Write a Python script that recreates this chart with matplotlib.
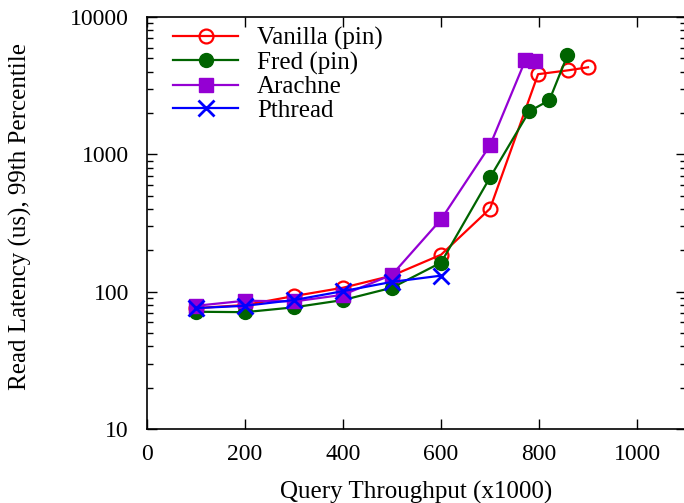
import matplotlib
matplotlib.use("Agg")
import matplotlib.pyplot as plt
from matplotlib.ticker import LogLocator, NullFormatter, FixedLocator

plt.rcParams['font.family'] = ['Liberation Serif', 'DejaVu Serif']

vanilla_x = [100, 200, 300, 400, 500, 600, 700, 798, 860, 900]
vanilla_y = [76, 80, 93, 107, 131, 186, 403, 3840, 4100, 4310]
fred_x = [100, 200, 300, 400, 500, 600, 700, 780, 821, 858]
fred_y = [71.5, 71, 77, 87, 107, 163, 680, 2060, 2480, 5280]
arachne_x = [100, 200, 300, 400, 500, 600, 700, 772, 792]
arachne_y = [79, 86, 85, 95, 133, 336, 1165, 4850, 4770]
pthread_x = [100, 200, 300, 400, 500, 600]
pthread_y = [76, 79, 87, 101, 118, 131]

xticks = [0, 200, 400, 600, 800, 1000]
yticks = [10, 100, 1000, 10000]

fig = plt.figure(figsize=(6.84, 5.03), dpi=100)
ax = fig.add_axes([0.215, 0.147, 0.788, 0.819])

ax.plot(vanilla_x, vanilla_y, color='#ff0000', marker='o', mfc='none', mec='#ff0000',
        ms=10, mew=1.6, lw=1.6, label='Vanilla (pin)')
ax.plot(fred_x, fred_y, color='#006400', marker='o', ms=10, lw=1.6, label='Fred (pin)')
ax.plot(arachne_x, arachne_y, color='#9400d3', marker='s', ms=10, lw=1.6, label='Arachne')
ax.plot(pthread_x, pthread_y, color='#0000ff', marker='x', ms=11, mew=2, lw=1.6, label='Pthread')

ax.set_yscale('log')
ax.set_xlim(0, 1100)
ax.set_ylim(10, 10000)
ax.xaxis.set_major_locator(FixedLocator(xticks))
ax.set_xticklabels([str(t) for t in xticks])
ax.yaxis.set_major_locator(FixedLocator(yticks))
ax.set_yticklabels([str(t) for t in yticks])
ax.yaxis.set_minor_locator(LogLocator(base=10, subs=range(2, 10)))
ax.yaxis.set_minor_formatter(NullFormatter())

ax.tick_params(axis='both', which='major', direction='in', length=7, width=1,
               labelsize=17, top=True, right=True)
ax.tick_params(axis='y', which='major', pad=13)
ax.tick_params(axis='x', which='major', pad=11)
ax.tick_params(axis='y', which='minor', direction='in', length=4, width=1, right=True)
ax.tick_params(axis='x', which='minor', bottom=False, top=False)
for s in ax.spines.values():
    s.set_linewidth(1.2)

ax.set_xlabel('Query Throughput (x1000)', fontsize=18)
ax.set_ylabel('Read Latency (us), 99th Percentile', fontsize=18)
ax.xaxis.set_label_coords(0.5, -0.125)
ax.yaxis.set_label_coords(-0.213, 0.515)

ax.legend(loc='upper left', frameon=False, fontsize=18, handlelength=2.6,
          handletextpad=0.75, borderaxespad=0.0, labelspacing=0.05,
          bbox_to_anchor=(0.03, 1.0))

fig.savefig('out.png', dpi=100)
